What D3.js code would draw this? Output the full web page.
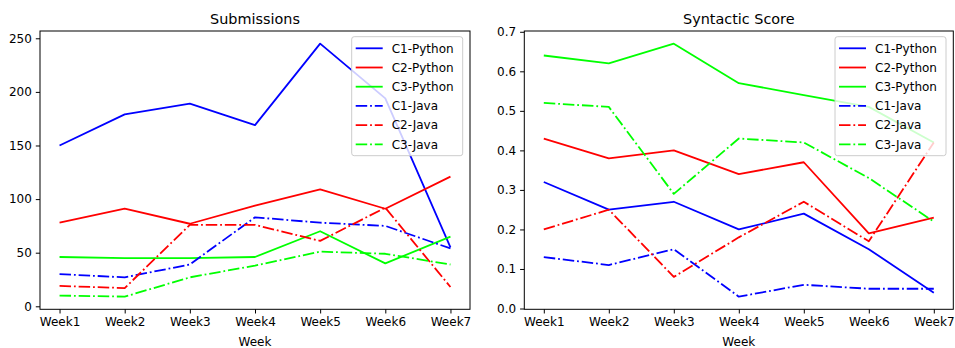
<!DOCTYPE html>
<html>
<head>
<meta charset="utf-8">
<script src="https://cdn.jsdelivr.net/npm/d3@7"></script>
<style>
  body { margin: 0; background: #fff; }
  svg { display: block; font-family: 'DejaVu Sans', sans-serif; }
  .axis path, .axis line { stroke: #000; stroke-width: 1; }
  .axis text { font-size: 12px; fill: #000; font-family: 'DejaVu Sans', sans-serif; }
</style>
</head>
<body>
<div class="chart"></div>
<script>
'use strict';
var weeks = ['Week1', 'Week2', 'Week3', 'Week4', 'Week5', 'Week6', 'Week7'];
var seriesNames = ['C1-Python', 'C2-Python', 'C3-Python', 'C1-Java', 'C2-Java', 'C3-Java'];

// Submissions
var subC1Python = [150, 179, 189, 169, 245, 194, 55];
var subC2Python = [78, 91, 77, 94, 109, 91, 121];
var subC3Python = [46, 45, 45, 46, 70, 40, 65];
var subC1Java = [30, 27, 39, 83, 78, 75, 54];
var subC2Java = [19, 17, 76, 76, 61, 92, 18];
var subC3Java = [10, 9, 27, 38, 51, 49, 39];
var subTicks = [0, 50, 100, 150, 200, 250];

// Syntactic Score
var synC1Python = [0.32, 0.25, 0.27, 0.20, 0.24, 0.15, 0.04];
var synC2Python = [0.43, 0.38, 0.40, 0.34, 0.37, 0.19, 0.23];
var synC3Python = [0.64, 0.62, 0.67, 0.57, 0.54, 0.51, 0.42];
var synC1Java = [0.13, 0.11, 0.15, 0.03, 0.06, 0.05, 0.05];
var synC2Java = [0.20, 0.25, 0.08, 0.18, 0.27, 0.17, 0.42];
var synC3Java = [0.52, 0.51, 0.29, 0.43, 0.42, 0.33, 0.22];
var synTicks = [0.0, 0.1, 0.2, 0.3, 0.4, 0.5, 0.6, 0.7];

var colors = ['#0000ff', '#ff0000', '#00ff00', '#0000ff', '#ff0000', '#00ff00'];
var dashed = [false, false, false, true, true, true];
var dashDot = '11.5,2.9,1.8,2.9';

var svg = d3.select('.chart').append('svg')
  .attr('width', 955)
  .attr('height', 348);

function drawPanel(opts) {
  var left = opts.left, right = opts.right, top = 31, bottom = 309.3;
  var allVals = d3.merge(opts.series);
  var lo = d3.min(allVals), hi = d3.max(allVals), pad = (hi - lo) * 0.05;

  // 5% margins on each side, like matplotlib
  var x = d3.scaleLinear()
    .domain([-0.3, weeks.length - 1 + 0.3])
    .range([left, right]);

  var y = d3.scaleLinear()
    .domain([lo - pad, hi + pad])
    .range([bottom, top]);

  var g = svg.append('g');

  var line = d3.line()
    .x(function(d, i) { return x(i); })
    .y(function(d) { return y(d); });

  opts.series.forEach(function(s, i) {
    g.append('path')
      .datum(s)
      .attr('d', line)
      .attr('fill', 'none')
      .attr('stroke', colors[i])
      .attr('stroke-width', 1.8)
      .attr('stroke-linejoin', 'round')
      .attr('stroke-dasharray', dashed[i] ? dashDot : null);
  });

  // spines
  g.append('rect')
    .attr('x', left)
    .attr('y', top)
    .attr('width', right - left)
    .attr('height', bottom - top)
    .attr('fill', 'none')
    .attr('stroke', '#000')
    .attr('stroke-width', 1);

  g.append('g')
    .attr('class', 'axis')
    .attr('transform', 'translate(0,' + bottom + ')')
    .call(d3.axisBottom(x)
      .tickValues(d3.range(weeks.length))
      .tickFormat(function(i) { return weeks[i]; })
      .tickSize(4.2)
      .tickSizeOuter(0)
      .tickPadding(4))
    .call(function(a) { a.select('.domain').remove(); });

  g.append('g')
    .attr('class', 'axis')
    .attr('transform', 'translate(' + left + ',0)')
    .call(d3.axisLeft(y)
      .tickValues(opts.ticks)
      .tickFormat(opts.format)
      .tickSize(4.2)
      .tickSizeOuter(0)
      .tickPadding(4))
    .call(function(a) { a.select('.domain').remove(); });

  g.append('text')
    .attr('x', (left + right) / 2)
    .attr('y', 23.5)
    .attr('text-anchor', 'middle')
    .style('font-size', '14.4px')
    .text(opts.title);

  g.append('text')
    .attr('x', (left + right) / 2)
    .attr('y', 346)
    .attr('text-anchor', 'middle')
    .style('font-size', '12px')
    .text('Week');

  // legend, upper right
  var lw = 111, lh = 119;
  var lx = right - 7.3 - lw, ly = top + 5.7;
  var leg = g.append('g');
  leg.append('rect')
    .attr('x', lx)
    .attr('y', ly)
    .attr('width', lw)
    .attr('height', lh)
    .attr('rx', 2.5)
    .attr('fill', '#fff')
    .attr('fill-opacity', 0.8)
    .attr('stroke', '#cccccc')
    .attr('stroke-width', 1);

  seriesNames.forEach(function(name, i) {
    var ry = ly + 11.6 + i * 19.2;
    leg.append('line')
      .attr('x1', lx + 4)
      .attr('x2', lx + 31)
      .attr('y1', ry)
      .attr('y2', ry)
      .attr('stroke', colors[i])
      .attr('stroke-width', 1.8)
      .attr('stroke-dasharray', dashed[i] ? dashDot : null);
    leg.append('text')
      .attr('x', lx + 40)
      .attr('y', ry)
      .attr('dy', '0.36em')
      .style('font-size', '12px')
      .text(name);
  });
}

drawPanel({
  left: 40, right: 470,
  title: 'Submissions',
  series: [subC1Python, subC2Python, subC3Python, subC1Java, subC2Java, subC3Java],
  ticks: subTicks,
  format: d3.format('d')
});

drawPanel({
  left: 524.3, right: 953.3,
  title: 'Syntactic Score',
  series: [synC1Python, synC2Python, synC3Python, synC1Java, synC2Java, synC3Java],
  ticks: synTicks,
  format: d3.format('.1f')
});
</script>
</body>
</html>
